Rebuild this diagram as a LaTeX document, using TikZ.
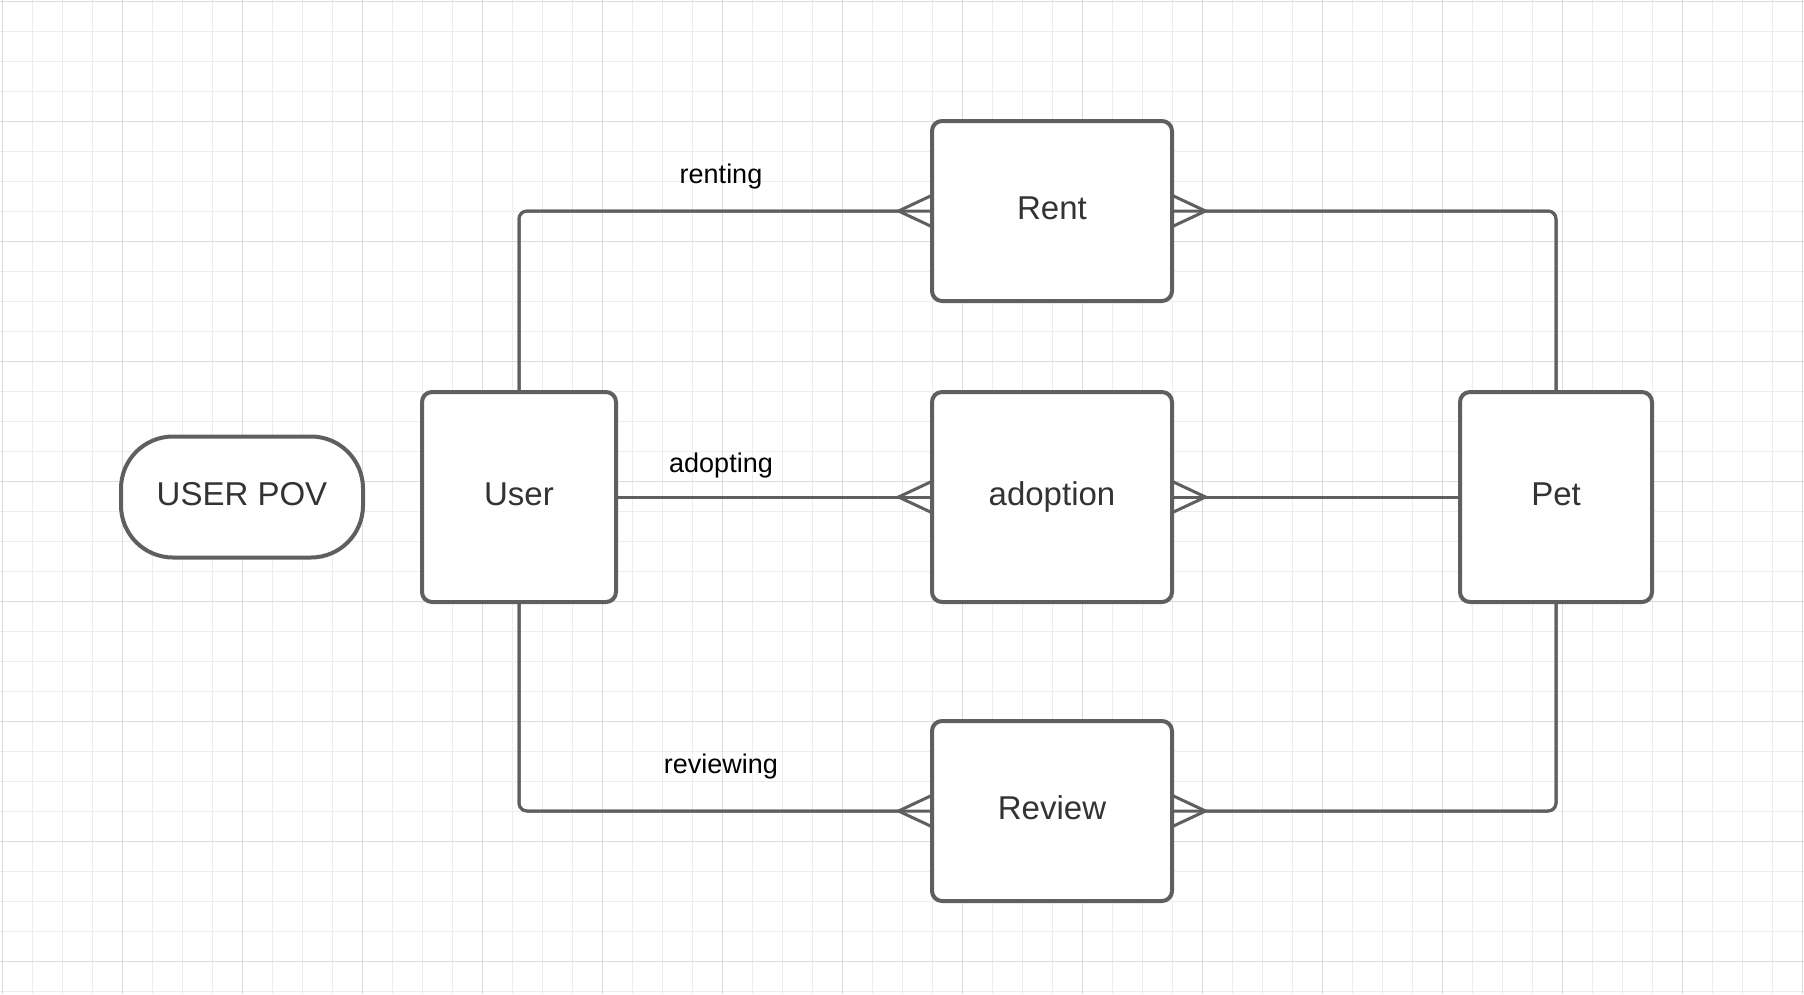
\documentclass[tikz,border=0pt]{standalone}
\usepackage{fontspec}
\setmainfont{Liberation Sans}
\usetikzlibrary{arrows.meta}
\definecolor{edgegray}{HTML}{5F5F5F}
\definecolor{textgray}{HTML}{333333}
\definecolor{gridminor}{HTML}{EDEDED}
\definecolor{gridmajor}{HTML}{DCDCDC}
\begin{document}
\begin{tikzpicture}[x=1pt, y=-1pt,
    entity/.style ={rectangle, draw=edgegray, line width=4pt, rounded corners=10pt,
      fill=white, inner sep=0pt, outer sep=0pt, text=textgray,
      text height=24pt, text depth=7pt,
      font=\fontsize{33}{39}\selectfont},
    terminal/.style ={entity, rounded corners=52pt},
    link/.style ={draw=edgegray, line width=3pt, rounded corners=8pt},
    relname/.style ={font=\fontsize{27}{32}\selectfont, text=black},
    crowend/.style ={postaction={draw, -{Straight Barb[reversed, length=32pt, width=30pt]}}},
    crowstart/.style ={postaction={draw, {Straight Barb[reversed, length=32pt, width=30pt]}-}}]
   \useasboundingbox (0,0) rectangle (1804,994);
   \fill[white] (0,0) rectangle (1804,994);
   % grid
   \foreach \k in {0,...,60} \draw[gridminor, line width=1pt] (2+30*\k,0) -- (2+30*\k,994);
   \foreach \k in {0,...,33} \draw[gridminor, line width=1pt] (0,1+30*\k) -- (1804,1+30*\k);
   \foreach \k in {0,...,15} \draw[gridmajor, line width=1pt] (2+120*\k,0) -- (2+120*\k,994);
   \foreach \k in {0,...,8} \draw[gridmajor, line width=1pt] (0,1+120*\k) -- (1804,1+120*\k);
   % entities
   \node[terminal, minimum width=242pt, minimum height=121pt] (POV) at (242,497) {USER POV};
   \node[entity, minimum width=194pt, minimum height=210pt] (User) at (519,497) {User};
   \node[entity, minimum width=240pt, minimum height=180pt] (Rent) at (1052,211) {Rent};
   \node[entity, minimum width=240pt, minimum height=210pt] (Adoption) at (1052,497) {adoption};
   \node[entity, minimum width=240pt, minimum height=180pt] (Review) at (1052,811) {Review};
   \node[entity, minimum width=192pt, minimum height=210pt] (Pet) at (1556,497) {Pet};
   % relations
   \draw[link, crowend] (User.north) |- (Rent.west);
   \draw[link, crowstart] (Rent.east) -| (Pet.north);
   \draw[link, crowend] (User.east) -- (Adoption.west);
   \draw[link, crowstart] (Adoption.east) -- (Pet.west);
   \draw[link, crowend] (User.south) |- (Review.west);
   \draw[link, crowstart] (Review.east) -| (Pet.south);
   \node[relname] (renting) at (721,177) {renting};
   \node[relname] (adopting) at (721,466) {adopting};
   \node[relname] (reviewing) at (721,767) {reviewing};
 \end{tikzpicture}
\end{document}
